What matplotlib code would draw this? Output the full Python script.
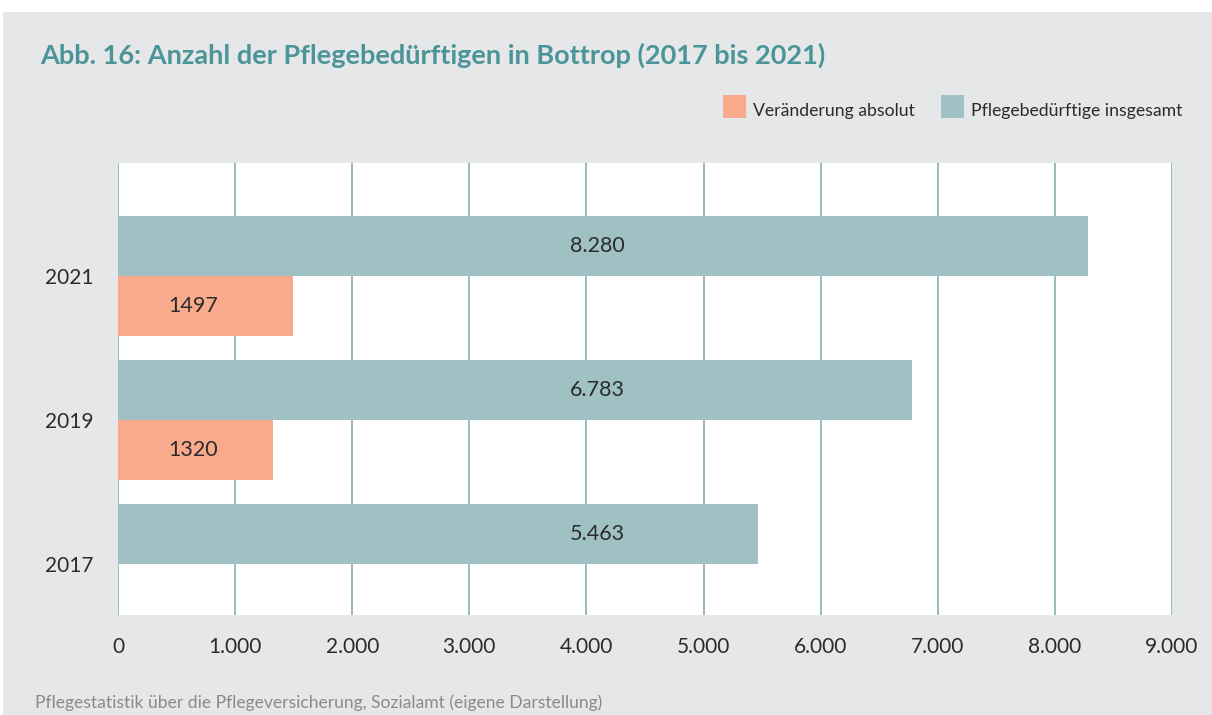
import matplotlib.pyplot as plt
from matplotlib.patches import Rectangle
import numpy as np

plt.rcParams['font.family'] = ['Lato', 'DejaVu Sans']

years = ['2017', '2019', '2021']
total = [5463, 6783, 8280]
change = [0, 1320, 1497]
total_labels = ['5.463', '6.783', '8.280']
change_labels = ['', '1320', '1497']
xticks = [0, 1000, 2000, 3000, 4000, 5000, 6000, 7000, 8000, 9000]
xtick_labels = ['0', '1.000', '2.000', '3.000', '4.000', '5.000', '6.000', '7.000', '8.000', '9.000']

W, H = 1212, 715
bg = '#e6e7e9'
teal = '#9fc1c3'
orange = '#f8aa8c'
grid = '#8db5b9'
txt = '#2b2b2b'

fig = plt.figure(figsize=(W / 100, H / 100), dpi=100, facecolor='white')
fig.patches.append(Rectangle((3 / W, 0), 1 - 3 / W, 1 - 12 / H, transform=fig.transFigure,
                             facecolor=bg, edgecolor='none', zorder=-1))

ax = fig.add_axes([118 / W, (H - 615) / H, (1172 - 118) / W, (615 - 163) / H])
ax.set_zorder(2)
ax.set_facecolor('white')

y = np.arange(len(years))
h = 60 / 144
ax.barh(y + h / 2, total, height=h, color=teal, zorder=3)
ax.barh(y - h / 2, change, height=h, color=orange, zorder=3)

# value labels sit at fixed horizontal positions, as in the original
tr = ax.get_yaxis_transform()
for i in range(len(years)):
    ax.text(0.455, y[i] + h / 2, total_labels[i], transform=tr, ha='center', va='center',
            fontsize=15.5, color=txt, zorder=4)
    if change[i]:
        ax.text(0.071, y[i] - h / 2, change_labels[i], transform=tr, ha='center', va='center',
                fontsize=15.5, color=txt, zorder=4)

ax.set_xlim(0, 9000)
ax.set_ylim(-51 / 144, 2 + 113 / 144)
ax.set_xticks(xticks)
ax.set_xticklabels(xtick_labels)
ax.set_yticks(y)
ax.set_yticklabels(years)
for xv in xticks:
    ax.axvline(xv, color=grid, lw=1.3, zorder=1)
ax.tick_params(axis='both', length=0, labelsize=15, labelcolor=txt)
ax.tick_params(axis='x', pad=16)
ax.tick_params(axis='y', pad=18)
for s in ax.spines.values():
    s.set_visible(False)

fig.text(40 / W, 1 - 55 / H, 'Abb. 16: Anzahl der Pflegebedürftigen in Bottrop (2017 bis 2021)',
         ha='left', va='center', fontsize=19.5, fontweight='bold', color='#4b9598')

# legend
for x0, col, label in [(723, orange, 'Veränderung absolut'), (941, teal, 'Pflegebedürftige insgesamt')]:
    fig.patches.append(Rectangle((x0 / W, 1 - 118 / H), 23 / W, 23 / H, transform=fig.transFigure,
                                 facecolor=col, edgecolor='none'))
    fig.text((x0 + 30) / W, 1 - 111 / H, label, ha='left', va='center', fontsize=12.7, color=txt)

fig.text(35 / W, 1 - 703 / H, 'Pflegestatistik über die Pflegeversicherung, Sozialamt (eigene Darstellung)',
         ha='left', va='center', fontsize=12.6, color='#8a8a8a')

fig.savefig('out.png', dpi=100, facecolor=fig.get_facecolor())
